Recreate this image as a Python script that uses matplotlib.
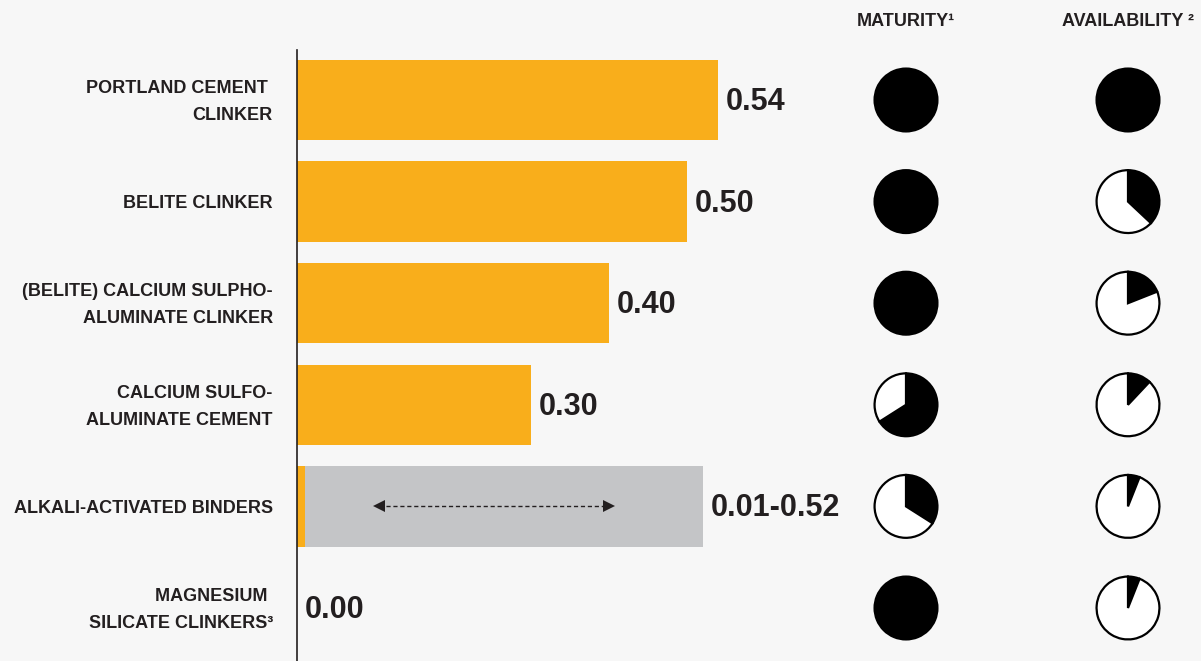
import matplotlib.pyplot as plt

plt.rcParams['font.family'] = ['Liberation Sans Narrow', 'Liberation Sans', 'DejaVu Sans']
plt.rcParams['font.weight'] = 'bold'

categories = [
    "PORTLAND CEMENT \nCLINKER",
    "BELITE CLINKER",
    "(BELITE) CALCIUM SULPHO-\nALUMINATE CLINKER",
    "CALCIUM SULFO-\nALUMINATE CEMENT",
    "ALKALI-ACTIVATED BINDERS",
    "MAGNESIUM \nSILICATE CLINKERS³",
]
values = [0.54, 0.50, 0.40, 0.30, 0.01, 0.00]
value_labels = ["0.54", "0.50", "0.40", "0.30", "0.01-0.52", "0.00"]
# alkali-activated binders are given as a range
range_row = 4
range_low, range_high = 0.01, 0.52

# share of each ball that is filled
maturity = [1.0, 1.0, 1.0, 0.66, 0.34, 1.0]
availability = [1.0, 0.37, 0.19, 0.12, 0.06, 0.06]

ORANGE = '#F9AE1B'
GREY = '#C4C5C7'
INK = '#231F20'
BG = '#F7F7F7'

W, H = 1201, 661
fig = plt.figure(figsize=(W / 100, H / 100), dpi=100, facecolor=BG)

px_per_unit = 780
left_px = 297
ax = fig.add_axes([left_px / W, 0, 1 - left_px / W, 1])
ax.set_facecolor(BG)
ax.set_xlim(0, (W - left_px) / px_per_unit)
row_px = 101.6
ax.set_ylim((H - 100) / row_px, -100 / row_px)
ax.axis('off')

rows = range(len(categories))
ax.barh(range_row, range_high, height=0.79, color=GREY)
ax.barh(rows, values, height=0.79, color=ORANGE)

# vertical axis line
ax.plot([0, 0], [-50 / row_px, (H - 100) / row_px], color=INK, lw=1.2,
        clip_on=False)

for i in rows:
    ax.text(-0.031, i + 0.02, categories[i], ha='right', va='center',
            fontsize=13, color=INK, linespacing=1.75)
    end = range_high if i == range_row else values[i]
    ax.text(end + 0.01, i + 0.02, value_labels[i], ha='left', va='center',
            fontsize=22, color=INK)

# double-headed dashed arrow inside the range bar
a0, a1 = 0.105, 0.40
ax.plot([a0, a1], [range_row, range_row], color=INK, lw=1, ls=(0, (3, 2)))
ax.plot([a0], [range_row], marker='<', color=INK, ms=9, mew=0)
ax.plot([a1], [range_row], marker='>', color=INK, ms=9, mew=0)

# harvey balls
columns = [("MATURITY¹", 906, maturity), ("AVAILABILITY ²", 1128, availability)]
size = 66
fig.canvas.draw()
for title, cx, fracs in columns:
    fig.text(cx / W, 1 - 21 / H, title, ha='center', va='center',
             fontsize=13, color=INK)
    for i in rows:
        _, y_disp = ax.transData.transform((0, i))
        pax = fig.add_axes([(cx - size / 2) / W, (y_disp - size / 2) / H,
                            size / W, size / H])
        f = fracs[i]
        pax.pie([f, 1 - f], colors=['black', 'white'], startangle=90,
                counterclock=False,
                wedgeprops=dict(edgecolor='black', linewidth=1.6))
        pax.set_xlim(-1.05, 1.05)
        pax.set_ylim(-1.05, 1.05)

fig.savefig('out.png', dpi=100, facecolor=BG)
